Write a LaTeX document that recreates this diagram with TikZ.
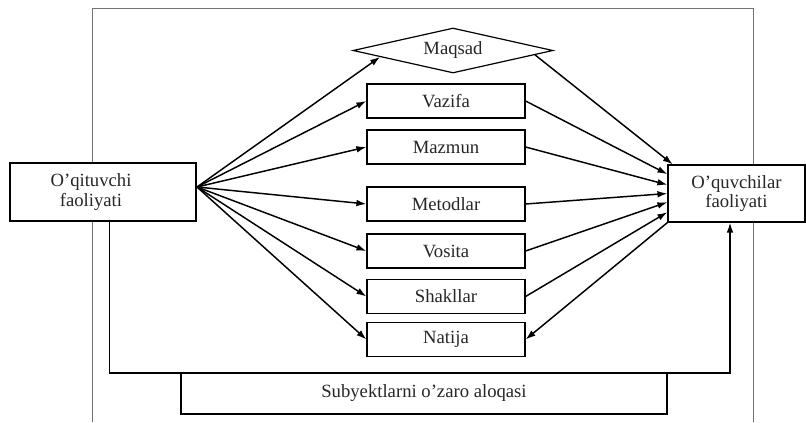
\documentclass[tikz,border=0pt]{standalone}
\usepackage{fontspec}
\setmainfont{Liberation Serif}
\usepackage{tikz}
\usetikzlibrary{arrows.meta,shapes.geometric}

\begin{document}
\begin{tikzpicture}[x=0.75pt,y=-0.75pt,
    >={Latex[length=7.5pt,width=5pt]},
    every node/.style={font=\fontsize{14}{14.5}\selectfont, text=black!85},
    box/.style={draw, line width=0.9pt, fill=white, inner sep=0pt, align=center},
    midbox/.style={box, minimum width=118.5pt, minimum height=25.5pt},
    link/.style={->, line width=1.1pt},
    frame/.style={draw=black!55, line width=0.6pt}]
    \useasboundingbox (0,0) rectangle (806,422);
    \draw[frame] (92,422) -- (92,8) -- (753,8) -- (753,422);
    \node[box, minimum width=139.5pt, minimum height=43.5pt] (teacher) at (103,192) {O'qituvchi\hspace*{18pt}\\faoliyati\hspace*{18pt}};
    \node[box, minimum width=102.75pt, minimum height=42.75pt] (pupils) at (736.5,193.5) {O'quvchilar\\faoliyati};
    \node[box, diamond, aspect=4.4, minimum width=150pt, minimum height=33.75pt] (maqsad) at (453,50.5) {Maqsad};
    \node[midbox] (vazifa) at (446,101) {Vazifa};
    \node[midbox] (mazmun) at (446,147) {Mazmun};
    \node[midbox] (metodlar) at (446,204) {Metodlar};
    \node[midbox] (vosita) at (446,251) {Vosita};
    \node[midbox] (shakllar) at (446,296.5) {Shakllar};
    \node[midbox] (natija) at (446,339.5) {Natija};
    \node[box, minimum width=364.5pt, minimum height=30.75pt] (aloqa) at (424,393.5) {Subyektlarni o'zaro aloqasi};
    \coordinate (fan) at (197,187);
    \coordinate (loop) at (730,373);
    % from the teacher
    \draw[link] (fan) -- (maqsad.185);
    \draw[link] (fan) -- (vazifa.west);
    \draw[link] (fan) -- (mazmun.west);
    \draw[link] (fan) -- (metodlar.west);
    \draw[link] (fan) -- (vosita.west);
    \draw[link] (fan) -- (shakllar.west);
    \draw[link] (fan) -- (natija.west);
    % to the pupils
    \draw[link] (maqsad.-3) -- ([xshift=4pt]pupils.north west);
    \draw[link] (vazifa.east) -- ([yshift=14.5pt]pupils.west);
    \draw[link] (mazmun.east) -- ([yshift=6.5pt]pupils.west);
    \draw[link] (metodlar.east) -- (pupils.west);
    \draw[link] (vosita.east) -- ([yshift=-6.5pt]pupils.west);
    \draw[link] (shakllar.east) -- ([yshift=-14pt]pupils.west);
    \draw[link] (pupils.south west) -- (natija.east);
    \draw[link] ([xshift=5pt]teacher.south) |- (loop) -- (loop |- pupils.south);
\end{tikzpicture}
\end{document}
